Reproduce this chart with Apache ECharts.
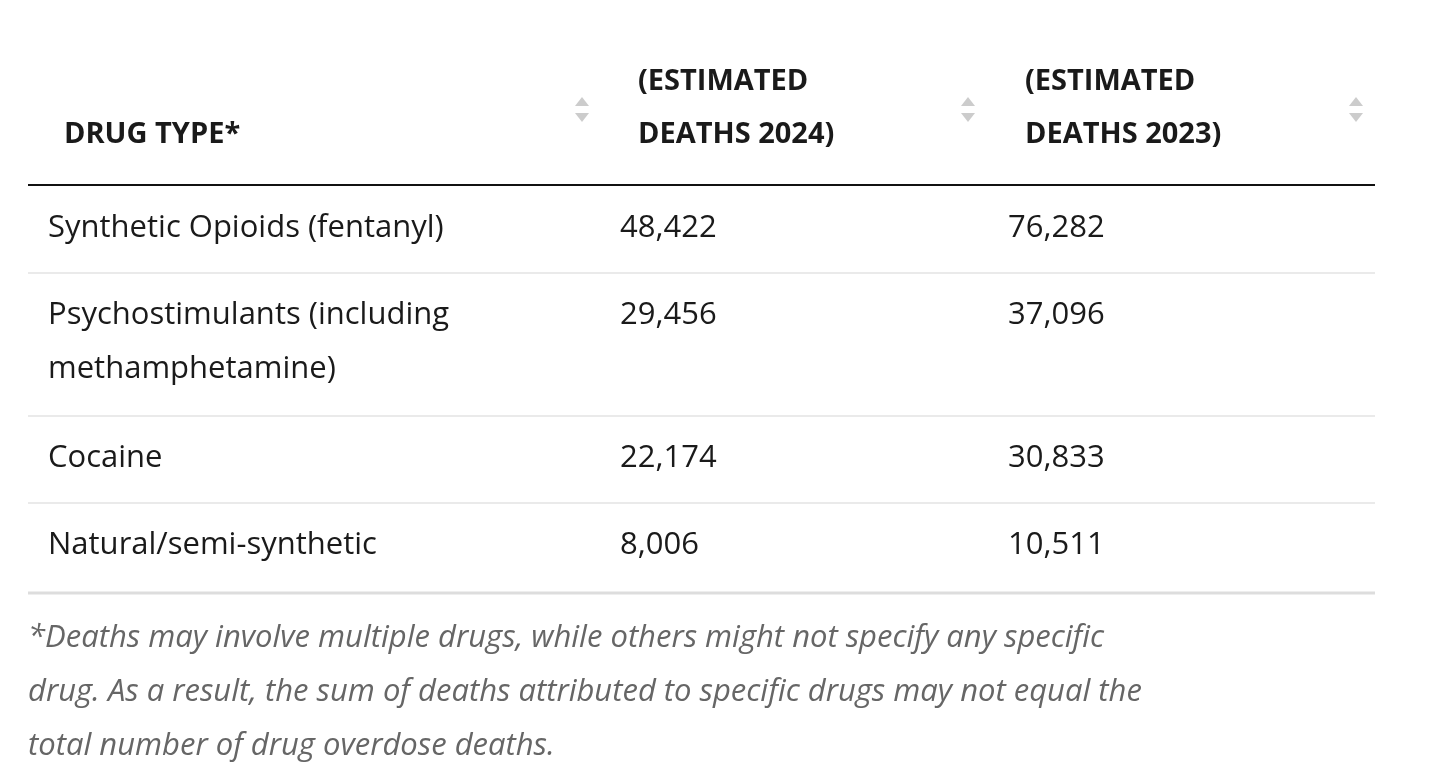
<!DOCTYPE html>
<html lang="en">
<head>
  <meta charset="UTF-8">
  <title>Drug overdose deaths</title>
  <script src="https://cdn.jsdelivr.net/npm/echarts@6/dist/echarts.min.js"></script>
  <style>
    html, body { margin: 0; padding: 0; background: #fff; }
    #chart { width: 1438px; height: 784px; }
  </style>
</head>
<body>
  <div id="chart"></div>
  <script>
    // table data
    const headers = [['DRUG TYPE*'], ['(ESTIMATED', 'DEATHS 2024)'], ['(ESTIMATED', 'DEATHS 2023)']];
    const drugTypes = [['Synthetic Opioids (fentanyl)'], ['Psychostimulants (including', 'methamphetamine)'], ['Cocaine'], ['Natural/semi-synthetic']];
    const deaths2024 = ['48,422', '29,456', '22,174', '8,006'];
    const deaths2023 = ['76,282', '37,096', '30,833', '10,511'];
    const footnote = [
      '*Deaths may involve multiple drugs, while others might not specify any specific',
      'drug. As a result, the sum of deaths attributed to specific drugs may not equal the',
      'total number of drug overdose deaths.'
    ];

    const font = '"Open Sans", "Noto Sans", sans-serif';
    const left = 28, right = 1375;
    const colX = [48, 620, 1008];
    const headX = [64, 638, 1025];
    const sortX = [582, 968, 1356];
    const lineH = 54;
    const elements = [];

    // header
    headers.forEach((h, i) => {
      h.forEach((t, j) => {
        elements.push({ type: 'text', x: headX[i], y: 135 - (h.length - 1 - j) * 53,
          style: { text: t, font: 'bold 29px ' + font, fill: '#1a1a1a', textVerticalAlign: 'middle' } });
      });
      elements.push({ type: 'polygon', shape: { points: [[sortX[i] - 7, 106], [sortX[i] + 7, 106], [sortX[i], 97]] }, style: { fill: '#ccc' } });
      elements.push({ type: 'polygon', shape: { points: [[sortX[i] - 7, 113], [sortX[i] + 7, 113], [sortX[i], 122]] }, style: { fill: '#ccc' } });
    });
    elements.push({ type: 'line', shape: { x1: left, y1: 185, x2: right, y2: 185 }, style: { stroke: '#111', lineWidth: 2 } });

    // rows
    let y = 186;
    drugTypes.forEach((d, i) => {
      const top = y + 42;
      const cells = [d, [deaths2024[i]], [deaths2023[i]]];
      cells.forEach((c, k) => {
        c.forEach((t, j) => {
          elements.push({ type: 'text', x: colX[k], y: top + j * lineH,
            style: { text: t, font: '31px ' + font, fill: '#1a1a1a', textVerticalAlign: 'middle' } });
        });
      });
      y += 87 + (d.length - 1) * 56;
      const last = i === drugTypes.length - 1;
      elements.push({ type: 'line', shape: { x1: left, y1: y + (last ? 3 : 0), x2: right, y2: y + (last ? 3 : 0) },
        style: { stroke: last ? '#ddd' : '#e3e3e3', lineWidth: last ? 3 : 1.5 } });
    });

    // footnote
    footnote.forEach((t, j) => {
      elements.push({ type: 'text', x: left, y: 638 + j * 54,
        style: { text: t, font: 'italic 31px ' + font, fill: '#666', textVerticalAlign: 'middle' } });
    });

    const chart = echarts.init(document.getElementById('chart'));
    chart.setOption({ animation: false, graphic: { elements: elements } });
  </script>
</body>
</html>
